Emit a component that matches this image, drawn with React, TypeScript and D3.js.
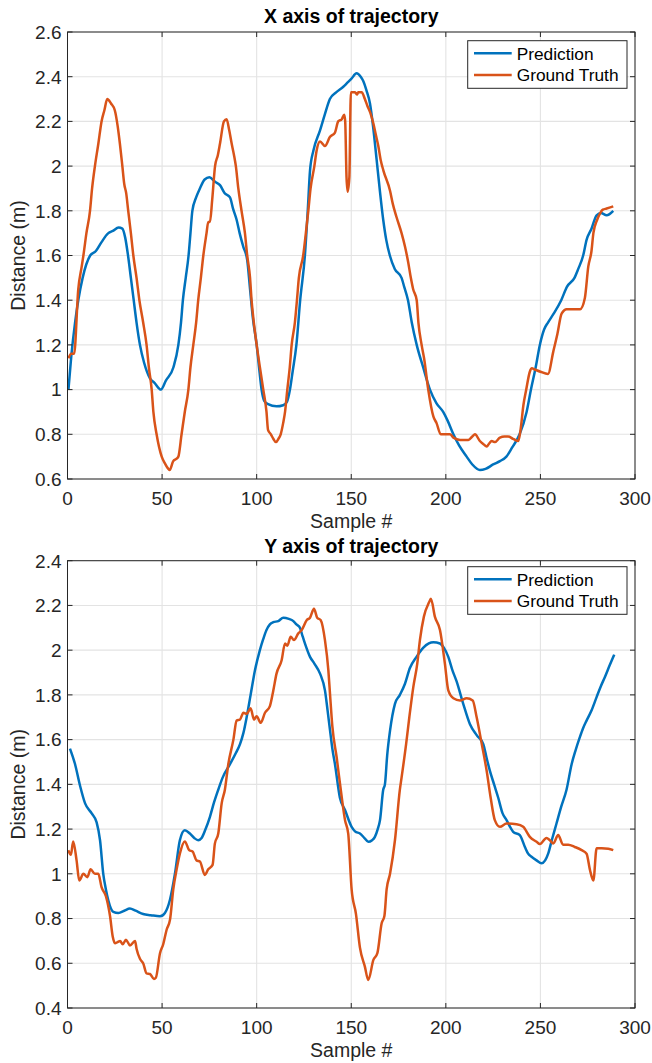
import * as d3 from "d3";

type Pt = [number, number]; // [sample #, distance (m)]

const W = 652;
const H = 1063;
const LEFT = 67.5;
const RIGHT = 635;
const FONT = "'Liberation Sans', Arial, Helvetica, sans-serif";
const BLUE = "#0072BD";
const ORANGE = "#D95319";

const xTicks = [0, 50, 100, 150, 200, 250, 300];
const topYTicks = [0.6, 0.8, 1, 1.2, 1.4, 1.6, 1.8, 2, 2.2, 2.4, 2.6];
const bottomYTicks = [0.4, 0.6, 0.8, 1, 1.2, 1.4, 1.6, 1.8, 2, 2.2, 2.4];
const legendLabels = ["Prediction", "Ground Truth"];

// X axis of trajectory
const xPrediction: Pt[] = [
  [0.5, 1.0], [2, 1.15], [4, 1.3], [5.7, 1.4], [8, 1.5], [12, 1.6], [15, 1.62], [18, 1.66], [21.6, 1.7],
  [24, 1.71], [27, 1.725], [29, 1.72], [30.5, 1.68], [32, 1.6], [33.5, 1.5], [35, 1.4], [36.5, 1.3],
  [38.3, 1.2], [40.5, 1.12], [43.6, 1.05], [46, 1.03], [49.4, 1.0], [52, 1.04], [56, 1.1], [58.6, 1.2],
  [60, 1.3], [61, 1.4], [62.5, 1.5], [64, 1.6], [65, 1.7], [66, 1.8], [68, 1.86], [70, 1.9], [72.5, 1.94],
  [75, 1.95], [78, 1.93], [80.6, 1.915], [83, 1.88], [85.9, 1.86], [87.5, 1.81], [89.4, 1.76], [91, 1.7],
  [92.9, 1.64], [95, 1.58], [96.5, 1.45], [98, 1.32], [100, 1.2], [101.5, 1.08], [102.6, 1.0], [104, 0.95],
  [106, 0.935], [110.5, 0.925], [114, 0.93], [116, 0.945], [117.6, 1.0], [119, 1.08], [121, 1.2],
  [123, 1.4], [125.5, 1.6], [127, 1.8], [128.2, 1.98], [130, 2.07], [133.5, 2.16], [136, 2.23],
  [138.7, 2.3], [142, 2.33], [145.8, 2.355], [147.6, 2.37], [150, 2.39], [152.8, 2.415], [155, 2.4],
  [156.4, 2.38], [158, 2.34], [159.9, 2.28], [161.5, 2.18], [163.4, 2.03], [165, 1.9], [166.9, 1.76],
  [168.5, 1.67], [170.4, 1.6], [173, 1.54], [176.6, 1.5], [178, 1.46], [180, 1.4], [182, 1.3],
  [184.6, 1.2], [188, 1.1], [191.6, 1.0], [195, 0.94], [198.6, 0.9], [201, 0.86], [204, 0.8], [207, 0.75],
  [211, 0.7], [214, 0.665], [218, 0.64], [221, 0.645], [225, 0.665], [228.6, 0.68], [232, 0.7], [235, 0.74],
  [239, 0.8], [242.7, 0.9], [245, 1.0], [247.5, 1.1], [249.7, 1.2], [252, 1.27], [254, 1.3], [257, 1.34],
  [261, 1.4], [264, 1.46], [268, 1.5], [270, 1.54], [272.6, 1.6], [274.4, 1.67], [277, 1.72], [279.7, 1.78],
  [282, 1.79], [285, 1.78], [288.5, 1.8],
];

const xTruth: Pt[] = [
  [0.5, 1.14], [2, 1.16], [3.5, 1.16], [5.7, 1.45], [7.5, 1.55], [8.4, 1.6], [10, 1.7], [11.9, 1.8],
  [13, 1.9], [14.5, 2.0], [16.3, 2.1], [18, 2.2], [19.5, 2.25], [21, 2.3], [23, 2.28], [25, 2.25],
  [26.5, 2.18], [27.7, 2.1], [29, 2.0], [30, 1.92], [31, 1.88], [32.1, 1.8], [33.5, 1.7], [34.8, 1.6],
  [36.5, 1.5], [38, 1.4], [40, 1.3], [41.8, 1.2], [43, 1.1], [44.5, 1.0], [45.4, 0.9], [47.1, 0.8],
  [49.8, 0.7], [51.5, 0.67], [53.3, 0.645], [54, 0.64], [55.9, 0.68], [57.5, 0.69], [58.6, 0.7],
  [60.3, 0.8], [62, 0.9], [63.9, 1.0], [65, 1.1], [66.5, 1.2], [68, 1.3], [69.1, 1.4], [70.5, 1.5],
  [71.8, 1.6], [73.5, 1.7], [74.4, 1.75], [75.3, 1.75], [76.5, 1.85], [78, 2.0], [79.5, 2.05], [80.6, 2.1],
  [82.7, 2.2], [84.1, 2.21], [85.5, 2.16], [86.8, 2.1], [88, 2.05], [89, 2.0], [90.3, 1.9], [92, 1.8],
  [93.8, 1.7], [95, 1.6], [96.5, 1.5], [97.3, 1.4], [98.5, 1.3], [100, 1.2], [101.7, 1.1], [103.5, 1.0],
  [105.2, 0.9], [106, 0.82], [107.5, 0.8], [108.8, 0.78], [110.2, 0.765], [111.5, 0.78], [112.7, 0.8],
  [114, 0.85], [115, 0.9], [116.2, 1.0], [117.5, 1.1], [118.5, 1.2], [120.2, 1.3], [121.3, 1.4],
  [122.3, 1.5], [124.6, 1.6], [126, 1.7], [127.3, 1.8], [128.5, 1.9], [130.5, 2.0], [131.7, 2.07],
  [133.5, 2.11], [136.1, 2.09], [138.7, 2.13], [141.4, 2.15], [143.1, 2.2], [145, 2.21], [146.3, 2.23],
  [146.8, 2.2], [147.5, 1.95], [148.1, 1.885], [149, 1.95], [149.8, 2.33], [152, 2.33], [153, 2.32],
  [153.7, 2.33], [155.5, 2.33], [157.2, 2.3], [158.5, 2.27], [160, 2.24], [161.7, 2.19], [163, 2.14],
  [164.3, 2.09], [165.5, 2.03], [167, 1.98], [170.5, 1.89], [172, 1.83], [174, 1.77], [176.6, 1.7],
  [178.4, 1.64], [180.1, 1.57], [181.5, 1.5], [182.7, 1.45], [184.6, 1.4], [185.5, 1.3], [187.2, 1.2],
  [188.5, 1.14], [190.7, 1.0], [193.4, 0.88], [195.1, 0.85], [197.3, 0.8], [200, 0.8], [202.2, 0.8],
  [204, 0.785], [207.5, 0.775], [211.9, 0.775], [214, 0.79], [215.4, 0.8], [218, 0.77], [220, 0.755],
  [221.6, 0.745], [223, 0.76], [224.2, 0.77], [226, 0.765], [228.6, 0.785], [231, 0.79], [233, 0.79],
  [235.5, 0.78], [238.3, 0.77], [239.5, 0.82], [241, 0.93], [242.5, 1.0], [244.4, 1.08], [245.5, 1.095],
  [247, 1.09], [250, 1.08], [254, 1.07], [256.8, 1.17], [259, 1.25], [261.2, 1.34], [263.9, 1.36],
  [267, 1.36], [271, 1.36], [273.5, 1.41], [275.3, 1.55], [277, 1.62], [278, 1.7], [280, 1.76],
  [281.6, 1.79], [283, 1.805], [285, 1.81], [288.5, 1.82],
];

// Y axis of trajectory
const yPrediction: Pt[] = [
  [1.3, 1.56], [4, 1.49], [6.6, 1.395], [9.3, 1.315], [12.8, 1.27], [15.4, 1.23], [17.2, 1.15], [18.9, 1.0],
  [20.3, 0.93], [21.6, 0.88], [24.2, 0.83], [26.9, 0.825], [30, 0.835], [33, 0.845], [36, 0.835], [40, 0.82],
  [44, 0.815], [48.9, 0.81], [51.5, 0.825], [54.2, 0.885], [56.8, 1.0], [59.4, 1.15], [62, 1.195],
  [64.7, 1.18], [67, 1.16], [69.1, 1.15], [70.9, 1.16], [73, 1.2], [75.3, 1.255], [77.5, 1.32],
  [79.7, 1.376], [82, 1.43], [85.9, 1.49], [89, 1.54], [91.2, 1.58], [93, 1.63], [94.7, 1.7], [96.8, 1.8],
  [99.1, 1.91], [101.7, 2.0], [103.5, 2.05], [105.2, 2.09], [107, 2.115], [108.8, 2.125], [111.4, 2.13],
  [114.1, 2.145], [117, 2.14], [119.4, 2.13], [121, 2.115], [122.9, 2.1], [124, 2.07], [125.5, 2.03],
  [128.2, 1.97], [130.5, 1.94], [133.5, 1.895], [136.1, 1.82], [137.5, 1.73], [138.8, 1.64], [140, 1.56],
  [141.4, 1.49], [144, 1.34], [146.7, 1.285], [150.2, 1.21], [152, 1.19], [154.6, 1.18], [157, 1.16],
  [159, 1.143], [161, 1.15], [162.5, 1.165], [164, 1.2], [165.2, 1.24], [166.9, 1.376], [167.8, 1.4],
  [169, 1.53], [170.5, 1.64], [173.1, 1.76], [175.7, 1.8], [178.4, 1.85], [181, 1.92], [184.5, 1.97],
  [188, 2.01], [191, 2.03], [193.4, 2.035], [196.9, 2.03], [199, 2.01], [201.3, 1.97], [203.5, 1.91],
  [205.7, 1.86], [209.2, 1.76], [212.7, 1.67], [216.3, 1.62], [219.8, 1.58], [221.5, 1.52], [223.3, 1.46],
  [225.5, 1.4], [227.7, 1.34], [230, 1.27], [232.1, 1.24], [235.6, 1.188], [239.1, 1.173], [241.8, 1.12],
  [243.5, 1.09], [245.3, 1.076], [248, 1.06], [250.6, 1.047], [252.5, 1.06], [254.1, 1.09], [256, 1.15],
  [258.5, 1.225], [261, 1.3], [263.8, 1.376], [266.5, 1.49], [268.5, 1.55], [270.8, 1.61], [272.5, 1.65],
  [274.4, 1.685], [277, 1.73], [279.7, 1.79], [282, 1.84], [284.1, 1.88], [286.5, 1.93], [289, 1.98],
];

const yTruth: Pt[] = [
  [0.4, 1.105], [1.8, 1.085], [3, 1.145], [4.8, 1.06], [6.2, 0.97], [8.4, 1.0], [10.5, 0.985], [12.2, 1.02],
  [14.5, 1.0], [16.3, 1.0], [18, 0.94], [20.3, 0.9], [22.5, 0.81], [23.9, 0.72], [25.1, 0.69],
  [26.5, 0.695], [27.8, 0.7], [29.2, 0.685], [30.9, 0.705], [33, 0.68], [35.7, 0.7], [36.5, 0.665],
  [38.3, 0.62], [40, 0.6], [41.8, 0.555], [43.6, 0.552], [45.7, 0.53], [46.7, 0.535], [48.9, 0.645],
  [50.6, 0.685], [52.4, 0.75], [54.2, 0.795], [55.9, 0.93], [57.7, 1.02], [59.4, 1.09], [62, 1.145],
  [64.4, 1.105], [66.1, 1.1], [68.2, 1.06], [70, 1.055], [72.6, 0.995], [74.4, 1.02], [76.7, 1.04],
  [77.9, 1.135], [79.7, 1.18], [81.5, 1.315], [83.2, 1.376], [85, 1.49], [87.7, 1.6], [89.4, 1.685],
  [91.2, 1.69], [93, 1.72], [94.7, 1.715], [96.8, 1.74], [98.6, 1.69], [100, 1.705], [102.1, 1.675],
  [104.4, 1.72], [107, 1.75], [108.8, 1.82], [110.5, 1.895], [113.2, 1.955], [115, 2.03], [116.2, 2.02],
  [118, 2.06], [119.7, 2.045], [122, 2.075], [123.8, 2.09], [126.5, 2.135], [128.2, 2.145], [130.3, 2.185],
  [132, 2.145], [133.8, 2.135], [136.1, 2.045], [137.9, 1.91], [138.8, 1.8], [140, 1.66], [142.3, 1.52],
  [145, 1.34], [146.7, 1.24], [148.4, 1.18], [150.2, 0.93], [152.5, 0.82], [154.6, 0.67], [157.2, 0.585],
  [159, 0.525], [161.7, 0.615], [163.8, 0.645], [166.1, 0.78], [167.5, 0.81], [168.7, 0.93], [170.5, 1.0],
  [173.1, 1.15], [175.7, 1.376], [176.6, 1.43], [179, 1.58], [180.7, 1.7], [182.8, 1.835], [184.9, 1.94],
  [186.3, 2.045], [188.4, 2.15], [191.2, 2.215], [192.1, 2.23], [194.2, 2.15], [196.9, 2.09], [199.5, 1.94],
  [201.3, 1.82], [204, 1.785], [207.5, 1.775], [211, 1.785], [214.2, 1.775], [216.3, 1.7], [219, 1.58],
  [221.6, 1.46], [223.7, 1.34], [225.9, 1.24], [228.6, 1.21], [232.1, 1.225], [237.4, 1.222],
  [240.9, 1.21], [244.4, 1.165], [248, 1.143], [249.7, 1.133], [253.2, 1.16], [255, 1.15], [256.8, 1.136],
  [259.4, 1.173], [262, 1.13], [264.7, 1.13], [268.2, 1.12], [271.8, 1.106], [274.4, 1.09], [276.2, 1.017],
  [278, 0.97], [279.7, 1.114], [282.4, 1.114], [285.9, 1.112], [288.5, 1.106],
];

interface PanelProps {
  top: number;
  bottom: number;
  title: string;
  titleY: number;
  yTicks: number[];
  pred: Pt[];
  truth: Pt[];
  legendTop: number;
}

function Panel({ top, bottom, title, titleY, yTicks, pred, truth, legendTop }: PanelProps) {
  const x = d3.scaleLinear().domain([0, 300]).range([LEFT, RIGHT]);
  const y = d3.scaleLinear().domain([yTicks[0], yTicks[yTicks.length - 1]]).range([bottom, top]);
  const line = d3
    .line<Pt>()
    .x((d) => x(d[0]))
    .y((d) => y(d[1]))
    .curve(d3.curveMonotoneX);
  const fmt = (v: number) => String(+v.toFixed(1));
  const tk = 5; // inward tick length
  const axis = "#262626";
  const midX = (LEFT + RIGHT) / 2;
  const lx0 = 467.7, lx1 = 627, lh = 47.6;

  return (
    <g fontFamily={FONT}>
      {/* grid */}
      {xTicks.map((t) => (
        <line key={"gx" + t} x1={x(t)} x2={x(t)} y1={top} y2={bottom} stroke="#e3e3e3" strokeWidth={1.1} />
      ))}
      {yTicks.map((t) => (
        <line key={"gy" + t} x1={LEFT} x2={RIGHT} y1={y(t)} y2={y(t)} stroke="#e3e3e3" strokeWidth={1.1} />
      ))}

      {/* data */}
      <path d={line(pred) ?? ""} fill="none" stroke={BLUE} strokeWidth={2.5} strokeLinejoin="round" />
      <path d={line(truth) ?? ""} fill="none" stroke={ORANGE} strokeWidth={2.5} strokeLinejoin="round" />

      {/* box + ticks */}
      <rect x={LEFT} y={top} width={RIGHT - LEFT} height={bottom - top} fill="none" stroke={axis} strokeWidth={1} />
      {xTicks.map((t) => (
        <g key={"tx" + t}>
          <line x1={x(t)} x2={x(t)} y1={bottom} y2={bottom - tk} stroke={axis} />
          <line x1={x(t)} x2={x(t)} y1={top} y2={top + tk} stroke={axis} />
          <text x={x(t)} y={bottom + 26} textAnchor="middle" fontSize={19} fill={axis}>
            {t}
          </text>
        </g>
      ))}
      {yTicks.map((t) => (
        <g key={"ty" + t}>
          <line x1={LEFT} x2={LEFT + tk} y1={y(t)} y2={y(t)} stroke={axis} />
          <line x1={RIGHT} x2={RIGHT - tk} y1={y(t)} y2={y(t)} stroke={axis} />
          <text x={61.5} y={y(t)} dy="0.36em" textAnchor="end" fontSize={19} fill={axis}>
            {fmt(t)}
          </text>
        </g>
      ))}

      {/* labels */}
      <text x={midX} y={titleY} textAnchor="middle" fontSize={19.5} fontWeight="bold" fill="#000">
        {title}
      </text>
      <text x={midX} y={bottom + 48.5} textAnchor="middle" fontSize={19.5} fill={axis}>
        Sample #
      </text>
      <text
        transform={`translate(25,${(top + bottom) / 2}) rotate(-90)`}
        textAnchor="middle"
        fontSize={19.5}
        fill={axis}
      >
        Distance (m)
      </text>

      {/* legend */}
      <rect x={lx0} y={legendTop} width={lx1 - lx0} height={lh} fill="#fff" stroke={axis} strokeWidth={1} />
      {legendLabels.map((lab, i) => {
        const ly = legendTop + 12.6 + i * 21.7;
        return (
          <g key={lab}>
            <line x1={474} x2={511.7} y1={ly} y2={ly} stroke={i === 0 ? BLUE : ORANGE} strokeWidth={2.5} />
            <text x={516.7} y={ly} dy="0.36em" fontSize={17.3} fill="#000">
              {lab}
            </text>
          </g>
        );
      })}
    </g>
  );
}

export default function App() {
  return (
    <svg
      width={W}
      height={H}
      viewBox={`0 0 ${W} ${H}`}
      style={{ position: "absolute", left: 0, top: 0, background: "#fff" }}
    >
      <rect width={W} height={H} fill="#fff" />
      <Panel
        top={32}
        bottom={479}
        title="X axis of trajectory"
        titleY={23}
        yTicks={topYTicks}
        pred={xPrediction}
        truth={xTruth}
        legendTop={40.7}
      />
      <Panel
        top={560.7}
        bottom={1008}
        title="Y axis of trajectory"
        titleY={553}
        yTicks={bottomYTicks}
        pred={yPrediction}
        truth={yTruth}
        legendTop={566.7}
      />
    </svg>
  );
}
